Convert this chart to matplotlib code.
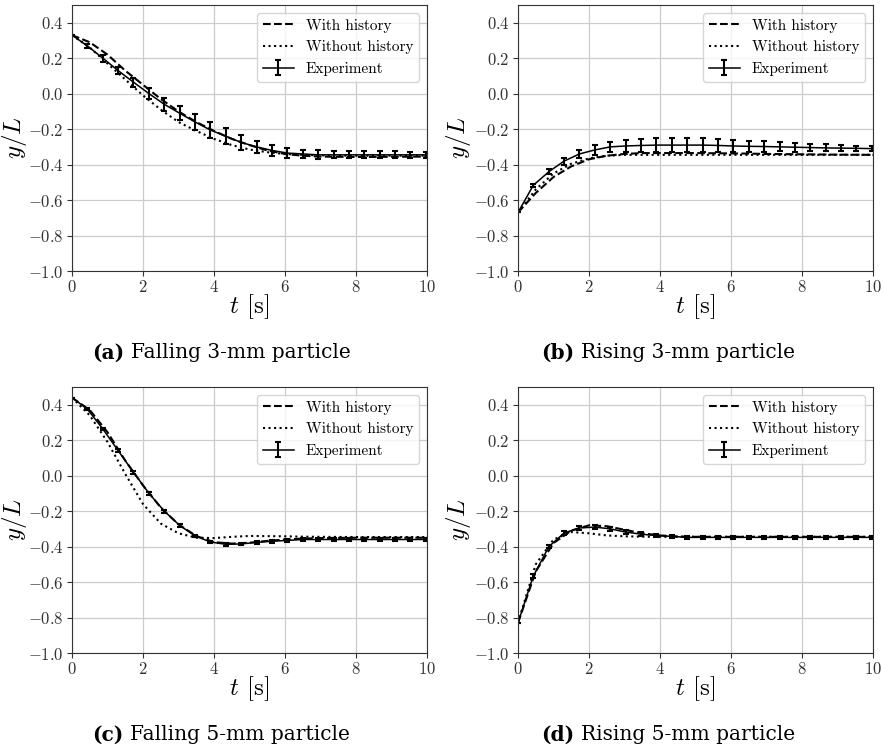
import numpy as np
import matplotlib
matplotlib.use("Agg")
from matplotlib import pyplot as plt

plt.rcParams['font.family'] = 'serif'
plt.rcParams['font.serif'] = ['cmr10']
plt.rcParams['mathtext.fontset'] = 'cm'
plt.rcParams['axes.formatter.use_mathtext'] = True
plt.rcParams['axes.unicode_minus'] = True

# experiment sample times (same for all panels)
t_exp = [0, 0.43, 0.87, 1.3, 1.73, 2.17, 2.6, 3.03, 3.47, 3.9, 4.33, 4.77,
         5.2, 5.63, 6.07, 6.5, 6.93, 7.37, 7.8, 8.23, 8.67, 9.1, 9.53, 9.97]
t_mod = [0, 0.5, 1.0, 1.5, 2.0, 2.5, 3.0, 3.5, 4.0, 4.5, 5.0, 5.5, 6.0,
         6.5, 7.0, 8.0, 9.0, 10.0]

# (a) falling 3-mm
exp_a = [0.33, 0.27, 0.20, 0.13, 0.065, 0.0, -0.06, -0.11, -0.16, -0.205, -0.24, -0.275,
         -0.30, -0.32, -0.335, -0.34, -0.345, -0.345, -0.345, -0.345, -0.345, -0.345, -0.345, -0.345]
err_a = [0.0, 0.01, 0.02, 0.02, 0.025, 0.03, 0.035, 0.04, 0.045, 0.045, 0.045, 0.04,
         0.035, 0.03, 0.03, 0.025, 0.025, 0.02, 0.02, 0.02, 0.02, 0.02, 0.015, 0.015]
hist_a = [0.33, 0.29, 0.22, 0.13, 0.05, -0.03, -0.10, -0.16, -0.21, -0.255, -0.29, -0.32,
          -0.34, -0.35, -0.355, -0.357, -0.356, -0.355]
nohist_a = [0.33, 0.26, 0.17, 0.08, -0.01, -0.09, -0.16, -0.21, -0.255, -0.29, -0.315, -0.33,
            -0.34, -0.345, -0.348, -0.35, -0.35, -0.35]

# (b) rising 3-mm
exp_b = [-0.67, -0.517, -0.44, -0.38, -0.34, -0.317, -0.30, -0.295, -0.292, -0.29, -0.29, -0.29,
         -0.29, -0.292, -0.295, -0.297, -0.298, -0.30, -0.302, -0.304, -0.306, -0.307, -0.308, -0.31]
err_b = [0.0, 0.01, 0.015, 0.02, 0.02, 0.03, 0.03, 0.035, 0.035, 0.04, 0.04, 0.04,
         0.04, 0.035, 0.035, 0.03, 0.03, 0.025, 0.025, 0.02, 0.02, 0.015, 0.015, 0.015]
hist_b = [-0.67, -0.56, -0.47, -0.41, -0.37, -0.35, -0.34, -0.335, -0.335, -0.335, -0.335, -0.336,
          -0.337, -0.338, -0.34, -0.342, -0.344, -0.345]
nohist_b = [-0.67, -0.54, -0.45, -0.395, -0.365, -0.35, -0.345, -0.345, -0.345, -0.345, -0.345, -0.345,
            -0.345, -0.345, -0.345, -0.345, -0.345, -0.345]

# (c) falling 5-mm
exp_c = [0.44, 0.376, 0.263, 0.141, 0.02, -0.10, -0.20, -0.28, -0.34, -0.374, -0.387, -0.385,
         -0.376, -0.37, -0.365, -0.36, -0.36, -0.36, -0.36, -0.36, -0.36, -0.36, -0.36, -0.36]
err_c = [0.0] + [0.008] * 23
hist_c = [0.44, 0.37, 0.245, 0.085, -0.055, -0.18, -0.275, -0.34, -0.375, -0.383, -0.378, -0.368,
          -0.36, -0.355, -0.352, -0.35, -0.35, -0.35]
nohist_c = [0.44, 0.34, 0.19, 0.01, -0.16, -0.27, -0.325, -0.35, -0.352, -0.345, -0.34, -0.341,
            -0.342, -0.344, -0.345, -0.346, -0.346, -0.346]

# (d) rising 5-mm
exp_d = [-0.83, -0.567, -0.40, -0.323, -0.295, -0.29, -0.30, -0.318, -0.33, -0.338, -0.342, -0.348,
         -0.348, -0.348, -0.348, -0.348, -0.348, -0.348, -0.348, -0.348, -0.348, -0.348, -0.348, -0.348]
err_d = [0.0] + [0.01] * 23
hist_d = [-0.83, -0.54, -0.38, -0.31, -0.28, -0.285, -0.305, -0.325, -0.337, -0.343, -0.345, -0.345,
          -0.345, -0.345, -0.345, -0.345, -0.345, -0.345]
nohist_d = [-0.83, -0.50, -0.36, -0.318, -0.325, -0.337, -0.342, -0.344, -0.345, -0.345, -0.345, -0.345,
            -0.345, -0.345, -0.345, -0.345, -0.345, -0.345]

panels = [
    ("(a)", "Falling 3-mm particle", exp_a, err_a, hist_a, nohist_a),
    ("(b)", "Rising 3-mm particle", exp_b, err_b, hist_b, nohist_b),
    ("(c)", "Falling 5-mm particle", exp_c, err_c, hist_c, nohist_c),
    ("(d)", "Rising 5-mm particle", exp_d, err_d, hist_d, nohist_d),
]

W, H = 883, 754
fig = plt.figure(figsize=(W / 100, H / 100), dpi=100)

# axes boxes in pixels: left, top
boxes = [(72, 5), (518, 5), (72, 387), (518, 387)]
caps = [(92, 353), (541, 353), (92, 735), (541, 735)]
ylab_x = [-0.12, -0.128, -0.12, -0.128]
aw, ah = 355, 266

renderer = fig.canvas.get_renderer()

for (tag, title, ex, er, hi, nh), (l, t), (cx, cy), lx in zip(panels, boxes, caps, ylab_x):
    ax = fig.add_axes([l / W, 1 - (t + ah) / H, aw / W, ah / H])
    ax.plot(t_mod, hi, 'k--', lw=1.5, label="With history")
    ax.plot(t_mod, nh, 'k:', lw=1.5, label="Without history")
    ax.errorbar(t_exp, ex, yerr=er, color='k', lw=1.1, elinewidth=1.5,
                capsize=2.5, capthick=1.5, label="Experiment")
    ax.set_xlim(0, 10)
    ax.set_ylim(-1.0, 0.5)
    ax.set_yticks([-1.0, -0.8, -0.6, -0.4, -0.2, 0.0, 0.2, 0.4])
    ax.set_xticks([0, 2, 4, 6, 8, 10])
    ax.grid(True, color='#cccccc', lw=0.9)
    ax.set_axisbelow(True)
    ax.tick_params(labelsize=12, colors='#333333', pad=2.5)
    for s in ax.spines.values():
        s.set_color('#333333')
    ax.set_xlabel(r"$t$ [s]", fontsize=18, labelpad=-2)
    ax.set_ylabel(r"$y/L$", fontsize=18)
    ax.yaxis.set_label_coords(lx, 0.5)
    ax.legend(loc='upper right', fontsize=11)

    tg = fig.text(cx / W, 1 - cy / H, tag, family='DejaVu Serif', weight='bold',
                  fontsize=14.5, ha='left', va='center')
    bb = tg.get_window_extent(renderer)
    fig.text((bb.x1 + 7) / W, 1 - cy / H, title, family='DejaVu Serif',
             fontsize=14.5, ha='left', va='center')

fig.savefig("out.png", dpi=100)
